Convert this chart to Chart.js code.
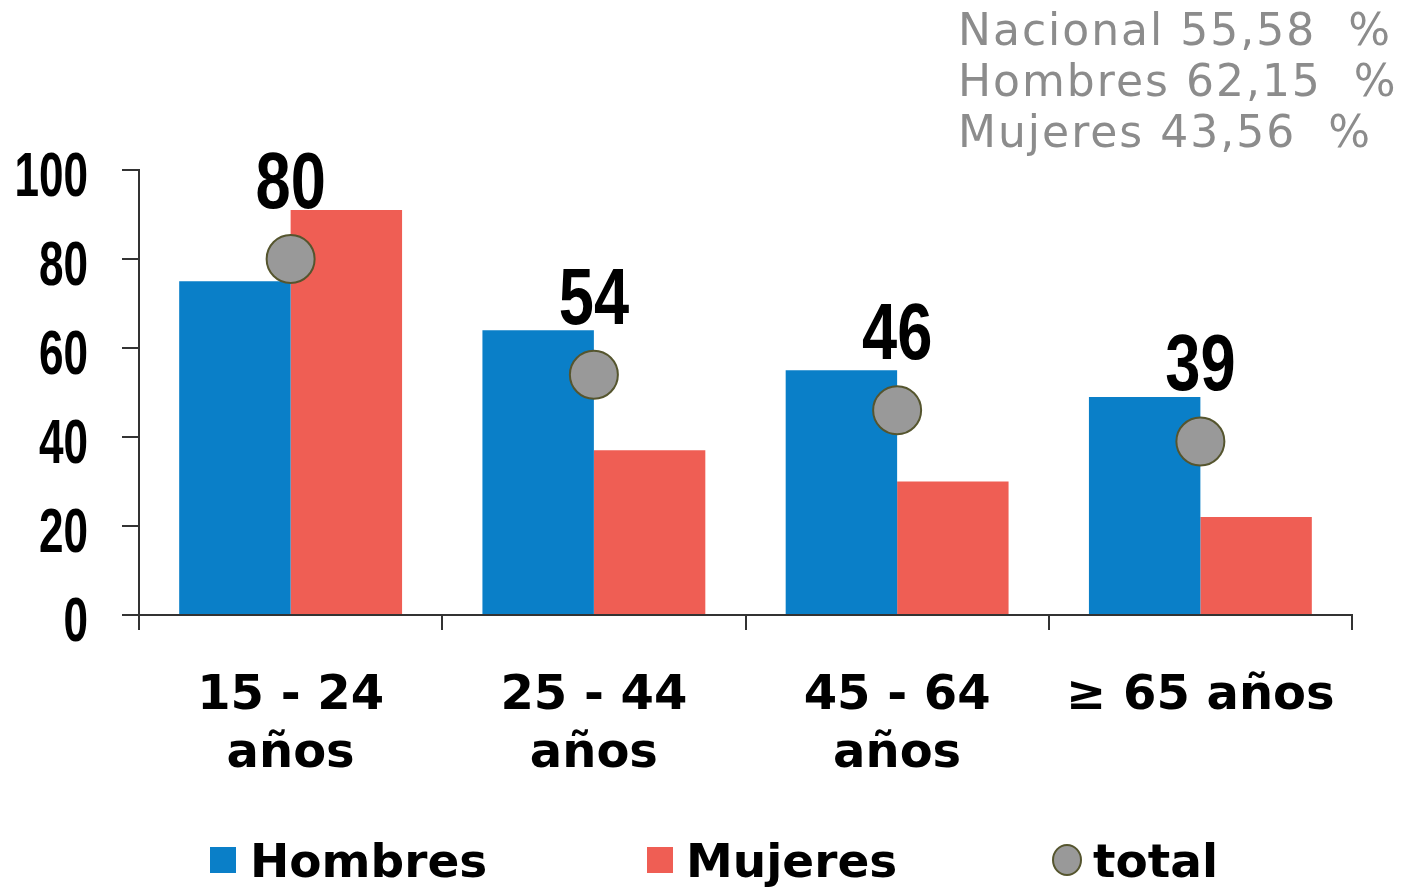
<!DOCTYPE html>
<html>
<head>
<meta charset="utf-8">
<script src="https://cdn.jsdelivr.net/npm/chart.js@4.4.1/dist/chart.umd.min.js"></script>
<style>
  html, body { margin: 0; padding: 0; background: #fff; }
  #wrap { width: 1403px; height: 887px; }
</style>
</head>
<body>
<div id="wrap"><canvas id="grafico"></canvas></div>
<script>
// Datos
const categorias = [["15 - 24", "años"], ["25 - 44", "años"], ["45 - 64", "años"], "≥ 65 años"];
const hombres = [75, 64, 55, 49];
const mujeres = [91, 37, 30, 22];
const total = [80, 54, 46, 39];
const ticksY = [0, 20, 40, 60, 80, 100];
const resumen = ["Nacional 55,58  %", "Hombres 62,15  %", "Mujeres 43,56  %"];

const azul = "#0a7fc8";
const rojo = "#ef5e54";
const gris = "#999999";

// dibuja texto "angosto" escalando en x
function textoAngosto(ctx, txt, x, y, sx, align) {
  ctx.save();
  ctx.translate(x, y);
  ctx.scale(sx, 1);
  ctx.textAlign = align;
  ctx.fillText(txt, 0, 0);
  ctx.restore();
}

const pluginTextos = {
  id: "textos",
  afterDraw(chart) {
    const ctx = chart.ctx;
    const escalaY = chart.scales.y;

    // etiquetas eje Y
    ctx.save();
    ctx.fillStyle = "#000";
    ctx.font = "bold 63px 'Liberation Sans', Arial, sans-serif";
    ctx.textBaseline = "alphabetic";
    escalaY.ticks.forEach((t) => {
      const y = escalaY.getPixelForValue(t.value);
      textoAngosto(ctx, String(t.value), 88, y + 26, 0.7, "right");
    });

    // valores del total sobre los puntos
    ctx.font = "bold 80px 'Liberation Sans', Arial, sans-serif";
    const meta = chart.getDatasetMeta(2);
    meta.data.forEach((p, i) => {
      textoAngosto(ctx, String(total[i]), p.x, p.y - 51, 0.79, "center");
    });

    // resumen arriba a la derecha
    ctx.fillStyle = "#8c8c8c";
    ctx.font = "44px 'DejaVu Sans', Verdana, sans-serif";
    ctx.letterSpacing = "2px";
    ctx.textAlign = "left";
    resumen.forEach((linea, i) => {
      ctx.fillText(linea, 958, 45 + i * 51);
    });
    ctx.letterSpacing = "0px";

    // leyenda
    const ds = chart.data.datasets;
    ctx.font = "bold 47px 'DejaVu Sans', Verdana, sans-serif";
    ctx.textBaseline = "alphabetic";
    const baseLeyenda = 877;
    ctx.fillStyle = ds[0].backgroundColor;
    ctx.fillRect(210, 847, 26, 26);
    ctx.fillStyle = ds[1].backgroundColor;
    ctx.fillRect(647, 847, 26, 26);
    ctx.beginPath();
    ctx.ellipse(1067, 860, 14, 15, 0, 0, Math.PI * 2);
    ctx.fillStyle = ds[2].backgroundColor;
    ctx.fill();
    ctx.lineWidth = 2;
    ctx.strokeStyle = ds[2].borderColor;
    ctx.stroke();
    ctx.fillStyle = "#000";
    ctx.fillText(ds[0].label, 250, baseLeyenda);
    ctx.fillText(ds[1].label, 686, baseLeyenda);
    ctx.fillText(ds[2].label, 1093, baseLeyenda);
    ctx.restore();
  },
};

const contexto = document.getElementById("grafico").getContext("2d");
new Chart(contexto, {
  type: "bar",
  data: {
    labels: categorias,
    datasets: [
      { label: "Hombres", data: hombres, backgroundColor: azul, order: 2 },
      { label: "Mujeres", data: mujeres, backgroundColor: rojo, order: 2 },
      {
        type: "line",
        label: "total",
        data: total,
        showLine: false,
        backgroundColor: gris,
        borderColor: "#55552e",
        pointRadius: 24,
        pointBorderWidth: 2,
        order: 0,
      },
    ],
  },
  options: {
    responsive: true,
    maintainAspectRatio: false,
    animation: false,
    layout: { padding: { top: 170, right: 51, left: 0, bottom: 0 } },
    datasets: { bar: { categoryPercentage: 0.735, barPercentage: 1.0 } },
    plugins: { legend: { display: false }, tooltip: { enabled: false } },
    scales: {
      x: {
        afterFit: (s) => { s.height = 272; },
        grid: { drawOnChartArea: false, tickLength: 15, color: "#333", lineWidth: 2 },
        border: { color: "#333", width: 2 },
        ticks: {
          color: "#000",
          padding: 37,
          font: { family: "'DejaVu Sans', Verdana, sans-serif", weight: "bold", size: 48, lineHeight: 1.22 },
          maxRotation: 0,
          autoSkip: false,
        },
      },
      y: {
        min: 0,
        max: 100,
        afterFit: (s) => { s.width = 139; },
        afterBuildTicks: (s) => { s.ticks = ticksY.map((v) => ({ value: v })); },
        grid: { drawOnChartArea: false, tickLength: 17, color: "#333", lineWidth: 2 },
        border: { color: "#333", width: 2 },
        ticks: { display: false },
      },
    },
  },
  plugins: [pluginTextos],
});
</script>
</body>
</html>
